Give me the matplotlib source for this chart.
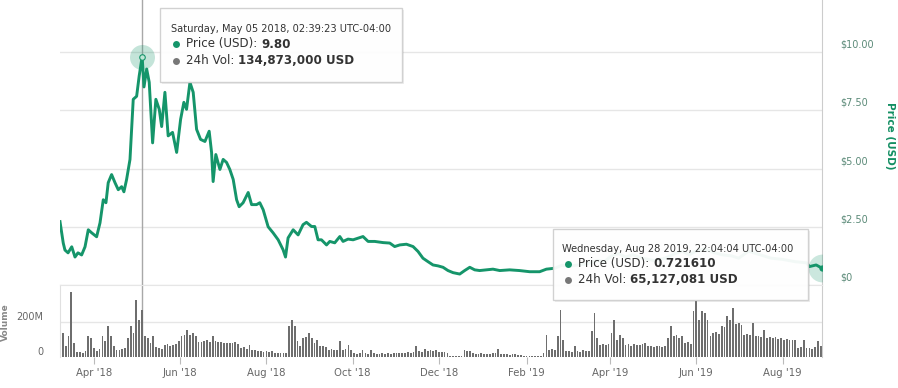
import numpy as np
import matplotlib
matplotlib.use('Agg')
import matplotlib.pyplot as plt
import matplotlib.dates as mdates
from matplotlib.patches import Rectangle
from matplotlib.transforms import offset_copy

# ---------------- data ----------------
start_date = np.datetime64('2018-03-08')

price_days = [0, 2.3, 3.5, 5.7, 8.3, 10.6, 12.7, 15.3, 17.7, 20, 22.4, 25.9, 28.3, 30.6, 32.5,
              34.1, 36.5, 38.9, 41.2, 43.6, 45.2, 47.1, 49.5, 51.8, 54.2, 56, 58.1, 59.4, 61.3,
              63.1, 65.5, 67.8, 70.2, 71.9, 74.2, 76.5, 79.6, 82.5, 85.3, 87.6, 89.5, 91.9, 94.2,
              96.6, 99.4, 102.5, 105.5, 107.2, 108.3, 110.2, 113.1, 115.4, 117.8, 120.1, 122.5,
              124.9, 126.7, 129.5, 133.1, 135.5, 139, 141.3, 143.7, 147.2, 150.7, 154.3, 157.8,
              159.5, 161.3, 164.9, 168.4, 171.9, 174.3, 177.9, 180.2, 182.5, 184.9, 188.5, 190.8,
              194.3, 197.9, 200.2, 203.7, 207.3, 210.8, 214.3, 217.9, 222.6, 228.5, 233.2, 236.7,
              240.3, 245, 249.7, 253.2, 256.7, 260.3, 263.8, 267.4, 270.9, 274.4, 278, 282.7,
              286.2, 289.8, 293.3, 296.8, 301.6, 306.2, 311, 318, 325, 332.2, 339.2, 344,
              350, 355, 360, 365, 372, 380, 385, 390, 395, 400, 405, 412, 420, 428, 435, 440,
              445, 450, 456, 462, 468, 475, 480, 487, 495, 503, 511, 520, 528, 530, 534.8, 538.92]
price_values = [2.72, 1.8, 1.5, 1.38, 1.64, 1.2, 1.38, 1.29, 1.64, 2.37, 2.24, 2.07, 2.67, 3.66, 3.53,
                4.39, 4.74, 4.39, 4.09, 4.22, 4.0, 4.53, 5.39, 7.97, 8.1, 8.97, 9.80, 8.5, 9.27,
                8.7, 6.1, 7.97, 7.54, 6.8, 8.27, 6.4, 6.55, 5.69, 7.11, 7.84, 7.54, 8.7, 8.27,
                6.68, 6.25, 6.16, 6.6, 5.69, 4.44, 5.6, 4.96, 5.39, 5.26, 4.96, 4.53,
                3.66, 3.36, 3.53, 3.97, 3.45, 3.45, 3.53, 3.23, 2.5, 2.24, 1.94, 1.51,
                1.2, 2.02, 2.37, 2.15, 2.59, 2.69, 2.51, 2.51, 1.94, 1.94, 1.72, 1.87,
                1.81, 2.08, 1.87, 1.97, 1.94, 2.01, 2.08, 1.87, 1.87, 1.82, 1.8, 1.65,
                1.72, 1.75, 1.65, 1.44, 1.15, 1.0, 0.86, 0.82, 0.76, 0.62, 0.53, 0.47,
                0.62, 0.76, 0.65, 0.62, 0.65, 0.68, 0.62, 0.65, 0.62, 0.57, 0.57, 0.68,
                0.72, 0.85, 0.8, 0.85, 0.9, 1.05, 1.0, 1.25, 1.35, 1.2, 1.3, 1.15, 1.05, 1.15, 1.35, 1.45,
                1.3, 1.45, 1.55, 1.4, 1.3, 1.25, 1.15, 1.45, 1.3, 1.15, 1.1, 1.0, 0.95, 0.79, 0.86, 0.7216]

vol_days = list(range(0, 539, 2))
vol_millions = [194, 137, 60, 118, 371, 80, 27, 30, 25, 35, 118, 108, 51, 32, 45, 118, 90, 175, 118, 61,
                42, 40, 45, 50, 108, 175, 137, 328, 213, 267, 118, 108, 80, 118, 55, 50, 45, 70, 75, 65,
                70, 72, 90, 118, 125, 156, 128, 135, 120, 85, 88, 90, 95, 85, 118, 90, 85, 88, 80, 82,
                78, 80, 85, 75, 51, 55, 45, 70, 38, 40, 35, 32, 30, 35, 28, 32, 23, 20, 25, 22,
                20, 175, 210, 175, 90, 61, 108, 115, 137, 108, 80, 99, 61, 65, 55, 42, 45, 40, 42, 90,
                42, 45, 70, 42, 20, 18, 22, 42, 20, 18, 42, 20, 15, 18, 20, 15, 20, 18, 22, 25,
                20, 22, 25, 28, 25, 30, 61, 35, 30, 45, 35, 40, 35, 42, 30, 27, 28, 22, 8, 4,
                3, 4, 5, 42, 35, 32, 25, 18, 15, 20, 15, 18, 15, 20, 22, 46, 18, 15, 19, 12,
                15, 18, 12, 10, 8, 5, 6, 5, 4, 6, 5, 20, 128, 42, 45, 40, 118, 270, 99, 32,
                35, 30, 61, 35, 30, 38, 32, 35, 147, 251, 108, 70, 72, 68, 75, 137, 213, 99, 128, 108,
                70, 72, 65, 75, 70, 68, 72, 80, 65, 61, 58, 65, 60, 55, 62, 108, 175, 118, 125, 110,
                118, 80, 85, 75, 261, 318, 213, 265, 251, 213, 118, 137, 140, 130, 175, 170, 232, 213, 280, 190,
                195, 185, 128, 130, 125, 194, 118, 120, 115, 156, 110, 112, 108, 115, 105, 110, 99, 100, 95, 99,
                98, 51, 55, 99, 50, 51, 48, 55, 90, 65]

x_tick_dates = ['2018-04-01', '2018-06-01', '2018-08-01', '2018-10-01', '2018-12-01',
                '2019-02-01', '2019-04-01', '2019-06-01', '2019-08-01']
x_tick_labels = ["Apr '18", "Jun '18", "Aug '18", "Oct '18", "Dec '18",
                 "Feb '19", "Apr '19", "Jun '19", "Aug '19"]
price_ticks = [0, 2.5, 5, 7.5, 10]
price_tick_labels = ['$0', '$2.50', '$5.00', '$7.50', '$10.00']
vol_ticks = [0, 200e6]
vol_tick_labels = ['0', '200M']

tip1_lines = ['Saturday, May 05 2018, 02:39:23 UTC-04:00', 'Price (USD): ', '9.80',
              '24h Vol: ', '134,873,000 USD']
tip2_lines = ['Wednesday, Aug 28 2019, 22:04:04 UTC-04:00', 'Price (USD): ', '0.721610',
              '24h Vol: ', '65,127,081 USD']
peak_day, peak_price = 58.1, 9.80
last_day, last_price = 538.92, 0.7216

# ---------------- style ----------------
plt.rcParams['font.family'] = ['DejaVu Sans']
W, H = 898, 388
GREEN = '#15956a'
GRID = '#e6e6e6'

base = mdates.date2num(start_date)
px = base + np.array(price_days)
vx = base + np.array(vol_days)

fig = plt.figure(figsize=(W / 100, H / 100), dpi=100)
L, R = 60, 822
ax = fig.add_axes([L / W, (H - 285) / H, (R - L) / W, 285 / H])
axv = fig.add_axes([L / W, (H - 357) / H, (R - L) / W, 72 / H])

xmin, xmax = base + 0, base + last_day
for a in (ax, axv):
    a.set_xlim(xmin, xmax)
    a.set_facecolor('none')
    for s in a.spines.values():
        s.set_visible(False)

# price panel
ax.set_ylim(0, 285 / 23.3)
for v in price_ticks:
    ax.axhline(v, color=GRID, lw=1, zorder=0)
ax.axvline(base + peak_day, color='#a8a8a8', lw=1, zorder=1)
ax.plot(px, price_values, color=GREEN, lw=2.1, zorder=3, solid_joinstyle='round')
ax.plot([base + peak_day], [peak_price], 'o', ms=18, color=GREEN, alpha=0.25, mec='none', zorder=4)
ax.plot([base + peak_day], [peak_price], 'o', ms=4, color='#bfe6d6', mec=GREEN, mew=0.8, zorder=5)
ax.plot([base + last_day], [last_price], 'o', ms=20, color=GREEN, alpha=0.22, mec='none', zorder=4)
ax.plot([base + last_day], [last_price], 'o', ms=4.5, color=GREEN, mec='none', zorder=5)
ax.spines['right'].set_visible(True)
ax.spines['right'].set_color('#cccccc')
ax.set_xticks([])
ax.set_yticks([])
tr = offset_copy(ax.get_yaxis_transform(), fig=fig, x=18, y=7.5, units='dots')
for v, lab in zip(price_ticks, price_tick_labels):
    ax.text(1, v, lab, transform=tr, ha='left', va='center', fontsize=7, color='#5b8a78')
fig.text(890 / W, 1 - 136 / H, 'Price (USD)', rotation=-90, ha='center', va='center',
         fontsize=7.5, fontweight='bold', color='#148f63')

# volume panel
axv.set_ylim(0, 411e6)
axv.axhline(200e6, color=GRID, lw=1, zorder=0)
axv.spines['top'].set_visible(True)
axv.spines['top'].set_color(GRID)
axv.spines['right'].set_visible(True)
axv.spines['right'].set_color('#cccccc')
axv.spines['left'].set_visible(True)
axv.spines['left'].set_color('#e0e0e0')
axv.axvline(base + peak_day, color='#a8a8a8', lw=1, zorder=1)
axv.bar(vx, np.array(vol_millions) * 1e6, width=1.25, color='#6e6e6e', zorder=2, align='center')
axv.set_yticks([])
axv.set_xticks([mdates.date2num(np.datetime64(d)) for d in x_tick_dates])
axv.set_xticklabels(x_tick_labels)
axv.tick_params(axis='x', length=5, color='#bbbbbb', labelcolor='#666666', labelsize=7.3, pad=3)
trv = offset_copy(axv.get_yaxis_transform(), fig=fig, x=-17, y=5, units='dots')
for v, lab in zip(vol_ticks, vol_tick_labels):
    axv.text(0, v, lab, transform=trv, ha='right', va='center', fontsize=7, color='#666666')
fig.text(5 / W, 1 - 322 / H, 'Volume', rotation=90, ha='center', va='center',
         fontsize=6.5, fontweight='bold', color='#888888')

# overlay for tooltips
ov = fig.add_axes([0, 0, 1, 1], zorder=10)
ov.set_xlim(0, W)
ov.set_ylim(H, 0)
ov.axis('off')
ov.patch.set_alpha(0)


def tooltip(x0, y0, x1, y1, lines, tx, ty1, bx, ty2, ty3):
    ov.add_patch(Rectangle((x0 + 2, y0 + 2), x1 - x0, y1 - y0, facecolor='#000000', alpha=0.07,
                           edgecolor='none'))
    ov.add_patch(Rectangle((x0, y0), x1 - x0, y1 - y0, facecolor='white', alpha=0.95,
                           edgecolor='#cfcfcf', lw=1))
    ov.text(tx, ty1, lines[0], fontsize=7.1, color='#333333', va='center', ha='left')
    ov.plot([bx], [ty2], 'o', ms=5, color=GREEN, mec='none')
    t = ov.text(bx + 10, ty2, lines[1], fontsize=8.6, color='#333333', va='center', ha='left')
    ov.annotate(lines[2], xy=(1, 0), xycoords=t, va='bottom', ha='left', fontsize=8.6,
                fontweight='bold', color='#333333')
    ov.plot([bx], [ty3], 'o', ms=5, color='#777777', mec='none')
    t = ov.text(bx + 10, ty3, lines[3], fontsize=8.6, color='#333333', va='center', ha='left')
    ov.annotate(lines[4], xy=(1, 0), xycoords=t, va='bottom', ha='left', fontsize=8.6,
                fontweight='bold', color='#333333')


tooltip(160, 8, 402, 82, tip1_lines, 171, 29, 176, 44, 61)
tooltip(553, 229, 808, 300, tip2_lines, 562, 248.5, 568, 263.5, 279.5)

fig.savefig('out.png', dpi=100)
